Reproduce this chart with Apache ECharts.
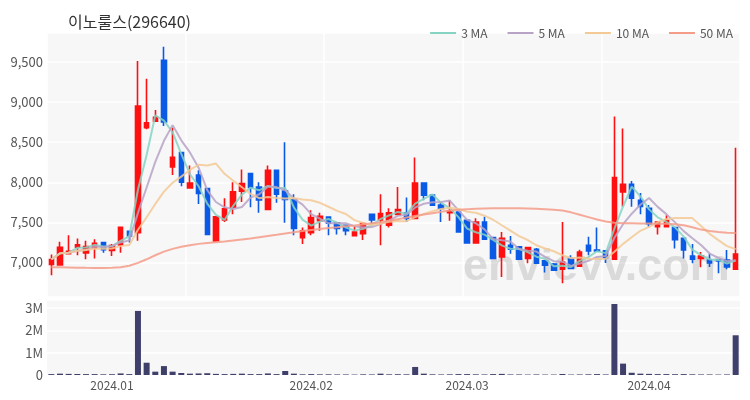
<!DOCTYPE html>
<html><head><meta charset="utf-8">
<script src="https://cdn.jsdelivr.net/npm/echarts@6/dist/echarts.min.js"></script>
<style>html,body{margin:0;padding:0;background:#fff}#c{width:750px;height:400px}</style>
</head><body><div id="c"></div>
<script>
const title = '이노룰스(296640)';
const dates = [
'2023-12-18','2023-12-19','2023-12-20','2023-12-21','2023-12-22','2023-12-26','2023-12-27','2023-12-28',
'2024-01-02','2024-01-03','2024-01-04','2024-01-05','2024-01-08','2024-01-09','2024-01-10','2024-01-11','2024-01-12',
'2024-01-15','2024-01-16','2024-01-17','2024-01-18','2024-01-19','2024-01-22','2024-01-23','2024-01-24','2024-01-25','2024-01-26',
'2024-01-29','2024-01-30','2024-01-31',
'2024-02-01','2024-02-02','2024-02-05','2024-02-06','2024-02-07','2024-02-08','2024-02-13','2024-02-14','2024-02-15','2024-02-16',
'2024-02-19','2024-02-20','2024-02-21','2024-02-22','2024-02-23','2024-02-26','2024-02-27','2024-02-28','2024-02-29',
'2024-03-04','2024-03-05','2024-03-06','2024-03-07','2024-03-08','2024-03-11','2024-03-12','2024-03-13','2024-03-14','2024-03-15',
'2024-03-18','2024-03-19','2024-03-20','2024-03-21','2024-03-22','2024-03-25','2024-03-26','2024-03-27','2024-03-28','2024-03-29',
'2024-04-01','2024-04-02','2024-04-03','2024-04-04','2024-04-05','2024-04-08','2024-04-09','2024-04-11','2024-04-12','2024-04-15','2024-04-16'
];
const xTickLabels = ['2024.01','2024.02','2024.03','2024.04'];
const xTickIndex = [7, 30, 48, 69];
const opens = [6975,6970,7110,7190,7120,7180,7250,7150,7220,7390,
7370,8680,8760,9520,8190,8370,7930,8090,7920,7270,
7530,7690,7890,8110,7940,7660,8150,7890,7785,7310,
7370,7520,7565,7495,7465,7335,7360,7600,7530,7465,
7600,7620,7550,7990,7840,7715,7620,7630,7525,7245,
7505,7310,7070,7215,7195,7050,7165,7020,6980,6915,
7050,6955,7215,7155,7145,7040,7880,7975,7775,7675,
7445,7445,7435,7300,7080,7050,7030,7035,7030,6915];
const closes = [7037,7190,7140,7220,7200,7240,7160,7210,7440,7330,
8950,8740,8810,8750,8310,8000,7990,7860,7350,7570,
7670,7880,7985,7935,7780,8150,7850,7785,7425,7395,
7560,7575,7490,7425,7395,7380,7485,7530,7610,7620,
7660,7550,7990,7840,7715,7675,7640,7380,7245,7505,
7290,7050,7300,7165,7040,7185,6990,6965,6905,7005,
6925,7130,7145,7145,7060,8060,7975,7800,7700,7485,
7505,7525,7285,7155,7040,7080,6995,7020,6945,7105];
const lows = [6842,6960,7100,7090,7040,7050,7120,7080,7120,7250,
7270,8660,8750,8700,8090,7950,7925,7730,7340,7265,
7505,7600,7755,7690,7620,7660,7745,7495,7340,7230,
7340,7395,7340,7350,7340,7335,7280,7485,7215,7435,
7590,7505,7545,7775,7710,7505,7520,7375,7240,7240,
7285,7045,6820,7110,7035,6990,6985,6875,6895,6740,
6920,6950,7090,7140,6995,7035,7695,7695,7600,7445,
7350,7440,7175,7050,6990,6940,6945,6865,6915,6910];
const highs = [7100,7260,7340,7300,7270,7290,7255,7230,7440,7395,
9510,9290,8900,9690,8680,8370,8210,8150,7930,7580,
7800,8000,8160,8110,8000,8210,8150,8500,7850,7435,
7650,7620,7570,7500,7470,7450,7505,7605,7850,7675,
7940,7810,8310,7995,7845,7745,7775,7635,7530,7550,
7570,7320,7380,7330,7200,7190,7180,7025,6995,7505,
7090,7160,7320,7435,7150,8820,8670,8015,7865,7715,
7510,7590,7440,7305,7230,7130,7110,7040,7155,8430];
const volumes = [40000,60000,50000,45000,40000,40000,30000,35000,70000,40000,
2870000,550000,150000,400000,150000,90000,60000,70000,80000,50000,
40000,50000,60000,40000,40000,70000,40000,180000,60000,30000,
40000,30000,30000,25000,25000,20000,30000,25000,60000,30000,
35000,30000,360000,60000,30000,25000,30000,40000,40000,30000,
25000,40000,50000,25000,25000,20000,25000,20000,20000,45000,
20000,25000,30000,40000,25000,3180000,510000,100000,60000,50000,
40000,40000,35000,40000,30000,25000,25000,20000,25000,1780000];
const ma50 = [6940,6940,6938,6935,6933,6932,6932,6935,6942,6960,
6995,7040,7090,7135,7170,7195,7215,7232,7243,7252,
7262,7275,7288,7300,7315,7330,7345,7362,7378,7392,
7405,7418,7430,7440,7452,7462,7474,7488,7502,7520,
7540,7560,7580,7598,7615,7632,7648,7658,7665,7670,
7673,7675,7676,7676,7675,7673,7670,7665,7658,7648,
7625,7595,7565,7535,7510,7495,7490,7488,7486,7485,
7484,7482,7478,7465,7440,7410,7392,7380,7372,7368];
const legendNames = ['3 MA','5 MA','10 MA','50 MA'];
const maColors = ['#86d3c3','#b7a3c6','#f3c995','#f59c88'];

function movingAvg(n){
  return closes.map((_, i) => {
    const s = Math.max(0, i - n + 1);
    let sum = 0;
    for (let k = s; k <= i; k++) sum += closes[k];
    return Math.round(sum / (i - s + 1));
  });
}
const ohlc = dates.map((d, i) => [opens[i], closes[i], lows[i], highs[i]]);
const tickMap = {};
xTickIndex.forEach((idx, k) => { tickMap[idx] = xTickLabels[k]; });
const comma = v => String(v).replace(/\B(?=(\d{3})+(?!\d))/g, ',');
const FONT = 'Noto Sans CJK KR';

const chart = echarts.init(document.getElementById('c'), null, {renderer: 'canvas'});
chart.setOption({
  animation: false,
  textStyle: {fontFamily: FONT},
  title: {text: title, left: 63, top: 9, textStyle: {fontSize: 16, fontWeight: 'normal', color: '#333', fontFamily: FONT}},
  legend: {data: legendNames.map(n => ({name: n, icon: 'rect'})), right: 12, top: 22, itemWidth: 26, itemHeight: 2, itemGap: 20,
    textStyle: {fontSize: 12, color: '#555', fontFamily: FONT}},
  graphic: [{type: 'text', left: 463, top: 245, z: 1, silent: true,
    style: {text: 'envievv.com', font: 'bold 45px "Liberation Sans", Arial, sans-serif', fill: 'rgba(175,175,175,0.4)'}}],
  grid: [
    {left: 47, right: 10, top: 33, height: 264, show: true, backgroundColor: '#f7f7f8', borderWidth: 0},
    {left: 47, right: 10, top: 300, height: 75, show: true, backgroundColor: '#f7f7f8', borderWidth: 0}
  ],
  xAxis: [
    {type: 'category', data: dates, gridIndex: 0, boundaryGap: true,
     axisLine: {show: false}, axisTick: {show: false}, axisLabel: {show: false},
     splitLine: {show: true, interval: 15, lineStyle: {color: '#ffffff', width: 1.5}}},
    {type: 'category', data: dates, gridIndex: 1, boundaryGap: true,
     axisLine: {show: false}, axisTick: {show: false},
     axisLabel: {margin: 4, fontSize: 12, color: '#555', fontFamily: FONT,
       interval: (idx) => tickMap[idx] !== undefined,
       formatter: (v, idx) => tickMap[idx] || ''},
     splitLine: {show: false}}
  ],
  yAxis: [
    {type: 'value', gridIndex: 0, min: 6570, max: 9860, scale: true,
     axisLine: {show: false}, axisTick: {show: false},
     axisLabel: {showMinLabel: false, showMaxLabel: false, margin: 4, fontSize: 13, color: '#555', fontFamily: FONT, formatter: comma},
     splitLine: {lineStyle: {color: '#ffffff', width: 1.5}}},
    {type: 'value', gridIndex: 1, min: 0, max: 3360000, interval: 1000000,
     axisLine: {show: false}, axisTick: {show: false},
     axisLabel: {showMaxLabel: false, margin: 4, fontSize: 13, color: '#555', fontFamily: FONT,
       formatter: v => v === 0 ? '0' : (v / 1e6) + 'M'},
     splitLine: {lineStyle: {color: '#ffffff', width: 1.5}}}
  ],
  series: [
    {name: 'candle', type: 'candlestick', xAxisIndex: 0, yAxisIndex: 0, data: ohlc, barWidth: 5, z: 3,
     itemStyle: {color: '#ff1010', color0: '#0a5ae6', borderColor: '#ff1010', borderColor0: '#0a5ae6', borderWidth: 1.6}},
    {name: '3 MA', type: 'line', data: movingAvg(3), symbol: 'none', z: 4, lineStyle: {width: 2, color: maColors[0], opacity: 0.85}, itemStyle: {color: maColors[0]}},
    {name: '5 MA', type: 'line', data: movingAvg(5), symbol: 'none', z: 4, lineStyle: {width: 2, color: maColors[1], opacity: 0.85}, itemStyle: {color: maColors[1]}},
    {name: '10 MA', type: 'line', data: movingAvg(10), symbol: 'none', z: 4, lineStyle: {width: 2, color: maColors[2], opacity: 0.85}, itemStyle: {color: maColors[2]}},
    {name: '50 MA', type: 'line', data: ma50, symbol: 'none', z: 4, lineStyle: {width: 2, color: maColors[3], opacity: 0.85}, itemStyle: {color: maColors[3]}},
    {name: 'volume', type: 'bar', xAxisIndex: 1, yAxisIndex: 1, data: volumes, barWidth: 6,
     itemStyle: {color: '#3f3f6b'}}
  ]
});
</script></body></html>
